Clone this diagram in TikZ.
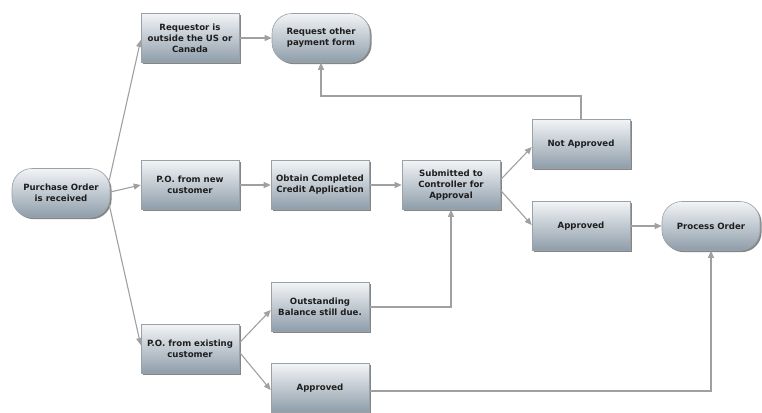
\documentclass[tikz,border=0pt]{standalone}
\usepackage{fontspec}
\setmainfont{DejaVu Sans}
\usetikzlibrary{shadows,arrows.meta}
\definecolor{boxtop}{HTML}{F2F4F6}
\definecolor{boxbot}{HTML}{8E9DAA}
\definecolor{boxline}{HTML}{9AA2A8}
\definecolor{conn}{HTML}{A0A0A0}
\definecolor{txt}{HTML}{1E1E1E}
\tikzset{
  base/.style={draw=boxline, line width=0.6pt, top color=boxtop, bottom color=boxbot,
    minimum width=98pt, minimum height=49pt, inner sep=1pt, align=center,
    font=\fontsize{8.6}{11.2}\selectfont\bfseries, text=txt,
    drop shadow={shadow xshift=1.6pt, shadow yshift=-1.6pt, fill=black!60, opacity=0.8}},
  boxn/.style={base, rectangle},
  pill/.style={base, rectangle, rounded corners=20pt},
  conn/.style={draw=conn, line width=1.1pt, -{Triangle[length=7pt,width=6pt]}},
}
\begin{document}
\begin{tikzpicture}[x=1pt,y=-1pt]
\useasboundingbox (0,0) rectangle (762,412);
\node[pill] (po) at (61,193) {Purchase Order\\is received};
\node[boxn] (req) at (190,38) {Requestor is\\outside the US or\\Canada};
\node[pill] (rop) at (321,38) {Request other\\payment form};
\node[boxn] (new) at (190,185) {P.O. from new\\customer};
\node[boxn] (obt) at (320,185) {Obtain Completed\\Credit Application};
\node[boxn] (sub) at (451,185) {Submitted to\\Controller for\\Approval};
\node[boxn] (nap) at (581,144) {Not Approved};
\node[boxn] (ap1) at (581,226) {Approved};
\node[pill] (proc) at (711,226) {Process Order};
\node[boxn] (ex) at (190,349) {P.O. from existing\\customer};
\node[boxn] (out) at (320,307) {Outstanding\\Balance still due.};
\node[boxn] (ap2) at (320,388) {Approved};
\coordinate (c1) at (581,96);
\coordinate (c2) at (321,96);
\coordinate (c3) at (451,307);
\coordinate (c4) at (711,391);

\draw[conn] ([xshift=-1pt,yshift=13pt]po.east) -- ([yshift=-2pt]req.west);
\draw[conn] ([yshift=1pt]po.east) -- (new.west);
\draw[conn] ([xshift=-1pt,yshift=-12pt]po.east) -- ([yshift=4pt]ex.west);
\draw[conn] (req.east) -- (rop.west);
\draw[conn] (new.east) -- (obt.west);
\draw[conn] (obt.east) -- (sub.west);
\draw[conn] ([yshift=5pt]sub.east) -- ([yshift=-3pt]nap.west);
\draw[conn] ([yshift=-5pt]sub.east) -- ([yshift=1pt]ap1.west);
\draw[conn] (nap.north) -- (c1) -- (c2) -- (rop.south);
\draw[conn] (ap1.east) -- (proc.west);
\draw[conn] ([yshift=6pt]ex.east) -- ([yshift=-3pt]out.west);
\draw[conn] ([yshift=-3pt]ex.east) -- ([yshift=-2pt]ap2.west);
\draw[conn] (out.east) -- (c3) -- (sub.south);
\draw[conn] (ap2.east |- c4) -- (c4) -- (proc.south);
\end{tikzpicture}
\end{document}
